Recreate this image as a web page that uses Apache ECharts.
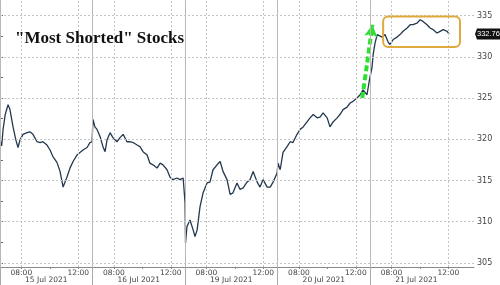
<!DOCTYPE html>
<html><head><meta charset="utf-8">
<script src="https://cdn.jsdelivr.net/npm/echarts@6/dist/echarts.min.js"></script>
<style>html,body{margin:0;padding:0;background:#fff}#c{width:500px;height:285px}</style>
</head><body><div id="c"></div>
<script>
const dayLabels = ['15 Jul 2021','16 Jul 2021','19 Jul 2021','20 Jul 2021','21 Jul 2021'];
const timeTicks = ['08:00','12:00'];
const minorTimeTicks = ['10:00'];
const yTicks = [305,310,315,320,325,330,335];
const lastValue = 332.76;
const titleText = '"Most Shorted" Stocks';

const day1Times = ['06:30','06:37','06:43','06:52','07:04','07:12','07:25','07:37','07:46','07:54','08:07','08:24','08:36','08:49','09:06','09:19','09:31','09:48','10:01','10:13','10:30','10:43','10:56','11:12','11:25','11:38','11:55','12:07','12:20','12:37','12:49','12:58'];
const day1Values = [319.9,319.2,321.2,323.0,324.2,323.6,321.5,319.9,319.0,319.9,320.6,320.8,320.9,320.6,319.7,319.6,319.7,319.3,318.7,317.9,317.2,316.1,314.2,315.4,316.5,317.3,318.1,318.4,318.7,319.0,319.6,319.7];

const day2Times = ['06:32','06:40','06:49','07:02','07:14','07:23','07:31','07:44','07:56','08:13','08:26','08:39','08:55','09:08','09:21','09:38','09:50','10:03','10:20','10:32','10:45','11:02','11:15','11:27','11:44','11:57','12:09','12:26','12:39','12:52','13:00'];
const day2Values = [322.4,321.5,321.2,320.3,319.1,318.5,319.9,320.8,320.2,319.7,320.2,320.6,319.7,319.7,319.6,319.3,319.1,318.5,318.1,317.1,316.9,316.5,317.1,316.9,316.3,315.4,315.1,315.3,315.1,315.3,315.4];

const day3Times = ['06:30','06:32','06:38','06:51','07:04','07:12','07:21','07:33','07:46','08:03','08:15','08:28','08:45','08:58','09:10','09:27','09:40','09:52','10:09','10:22','10:35','10:51','11:04','11:17','11:34','11:46','11:59','12:16','12:29','12:41','12:58'];
const day3Values = [312.3,307.4,309.4,310.2,309.0,308.2,309.0,311.8,313.5,314.7,314.8,316.3,316.9,317.3,316.1,315.1,313.3,313.5,314.7,313.9,314.1,314.8,315.1,316.1,314.8,314.2,315.1,314.2,314.2,314.8,315.9];

const day4Times = ['06:32','06:41','06:53','07:10','07:23','07:35','07:52','08:05','08:18','08:34','08:47','09:00','09:17','09:29','09:42','09:59','10:11','10:24','10:41','10:53','11:06','11:23','11:36','11:48','12:05','12:18','12:30','12:47','12:56'];
const day4Values = [317.1,316.3,318.4,319.1,319.7,319.6,320.6,321.2,321.5,322.1,322.6,323.0,322.6,322.7,323.2,322.6,321.5,322.1,322.6,323.0,323.6,323.9,324.4,324.6,325.0,325.4,326.0,325.4,327.0];

const day5Times = ['06:30','06:38','06:43','06:51','07:00','07:04','07:21','07:33','07:46','07:54','08:07','08:24','08:36','08:49','09:06','09:19','09:31','09:48','10:01','10:13','10:30','10:43','10:56','11:12','11:25','11:38','11:55','12:03'];
const day5Values = [327.6,328.7,330.3,331.7,332.7,332.9,332.4,332.7,331.8,331.5,332.1,332.4,332.7,333.1,333.5,333.9,333.9,334.1,334.5,334.3,333.9,333.5,333.3,332.9,333.1,333.3,333.1,332.76];

// annotation anchors (data coordinates)
const arrowStart = {day: 3, time: '12:27', value: 325.0};
const arrowEnd = {day: 4, time: '06:40', value: 333.9};
const boxFrom = {day: 4, time: '07:25', value: 334.9};
const boxTo = {day: 4, time: '12:49', value: 331.2};

const SESSION = 390, OPEN = 390;
function toX(day, t){ const [h,m]=t.split(':').map(Number); return day*SESSION + h*60+m - OPEN; }
const allTimes=[day1Times,day2Times,day3Times,day4Times,day5Times];
const allValues=[day1Values,day2Values,day3Values,day4Values,day5Values];
const seriesData=[];
allTimes.forEach((ts,d)=>ts.forEach((t,i)=>seriesData.push([toX(d,t), allValues[d][i]])));

const xMin=0, xMax=1998;
const yMin=304.5, yMax=336.9;
const boundaries = dayLabels.map((_,d)=>d*SESSION);
const labelVals=[], minorVals=[];
dayLabels.forEach((_,d)=>{ timeTicks.forEach(t=>labelVals.push(toX(d,t))); minorTimeTicks.forEach(t=>minorVals.push(toX(d,t))); });
const dayCenters = dayLabels.map((_,d)=>d*SESSION+SESSION/2);
const yMinor=[]; for(let v=305; v<=335; v+=2.5) yMinor.push(v);

const gridLines=[];
boundaries.forEach(b=>gridLines.push({xAxis:b, lineStyle:{color:'#b8b8b8',type:'solid',width:1}}));
labelVals.forEach(v=>gridLines.push({xAxis:v, lineStyle:{color:'#c4c4c4',type:[2,2],width:1}}));
yTicks.forEach(v=>gridLines.push({yAxis:v, lineStyle:{color:'#c4c4c4',type:[2,2],width:1}}));

const chart=echarts.init(document.getElementById('c'),null,{renderer:'canvas'});
const axisFont='DejaVu Sans';
chart.setOption({
  animation:false,
  title:{text:titleText,left:10,top:25,textStyle:{fontFamily:'Liberation Serif',fontWeight:'bold',fontSize:17,color:'#111'}},
  grid:{left:0,right:26,top:0,bottom:18,containLabel:false},
  xAxis:[{
    type:'value',min:xMin,max:xMax,
    axisLine:{show:true,onZero:false,lineStyle:{color:'#888'}},
    axisTick:{show:true,customValues:labelVals.concat(minorVals),length:2,lineStyle:{color:'#888'}},
    axisLabel:{customValues:labelVals,margin:2,fontSize:7.5,fontFamily:axisFont,color:'#444',
      formatter:v=>{const m=((v%SESSION)+SESSION)%SESSION+OPEN;const h=Math.floor(m/60),mm=m%60;return String(h).padStart(2,'0')+':'+String(mm).padStart(2,'0');}},
    splitLine:{show:false}
  },{
    type:'value',min:xMin,max:xMax,position:'bottom',
    axisLine:{show:false},
    axisTick:{show:true,customValues:boundaries,length:18,lineStyle:{color:'#aaa'}},
    axisLabel:{customValues:dayCenters,margin:9,fontSize:7.5,fontFamily:axisFont,color:'#444',
      formatter:v=>dayLabels[Math.floor(v/SESSION)]},
    splitLine:{show:false}
  }],
  yAxis:{
    type:'value',position:'right',min:yMin,max:yMax,
    axisLine:{show:true,lineStyle:{color:'#888'}},
    axisTick:{show:true,customValues:yMinor,length:3,lineStyle:{color:'#666'}},
    axisLabel:{customValues:yTicks,margin:3,fontSize:8,fontFamily:axisFont,color:'#444'},
    splitLine:{show:false}
  },
  series:[{
    type:'line',data:[],
    markLine:{silent:true,symbol:['none','arrow'],symbolSize:[10,12],label:{show:false},animation:false,
      lineStyle:{color:'#2de02d',width:4,type:[6,3]},
      data:[[{coord:[toX(arrowStart.day,arrowStart.time),arrowStart.value]},{coord:[toX(arrowEnd.day,arrowEnd.time),arrowEnd.value]}]]},
    z:2
  },{
    type:'line',data:seriesData,showSymbol:false,symbol:'none',
    lineStyle:{color:'#24394f',width:1.3},
    markLine:{silent:true,symbol:'none',label:{show:false},animation:false,data:gridLines},
    z:3
  }]
});

const p1=chart.convertToPixel({gridIndex:0},[toX(boxFrom.day,boxFrom.time),boxFrom.value]);
const p2=chart.convertToPixel({gridIndex:0},[toX(boxTo.day,boxTo.time),boxTo.value]);
const py=chart.convertToPixel({yAxisIndex:0},lastValue);
const ax=chart.convertToPixel({xAxisIndex:0},xMax);
chart.setOption({graphic:[
  {type:'rect',shape:{x:p1[0],y:p1[1],width:p2[0]-p1[0],height:p2[1]-p1[1],r:5},style:{fill:'none',stroke:'#e0a93c',lineWidth:2},z:10},
  {type:'polygon',shape:{points:[[ax+1,py],[ax+3,py-5.5],[500,py-5.5],[500,py+5.5],[ax+3,py+5.5]]},style:{fill:'#111'},z:10},
  {type:'text',x:ax+3,y:py,style:{text:lastValue.toFixed(2),fill:'#fff',font:'7.5px Liberation Sans',verticalAlign:'middle',align:'left'},z:11}
]});
</script></body></html>
